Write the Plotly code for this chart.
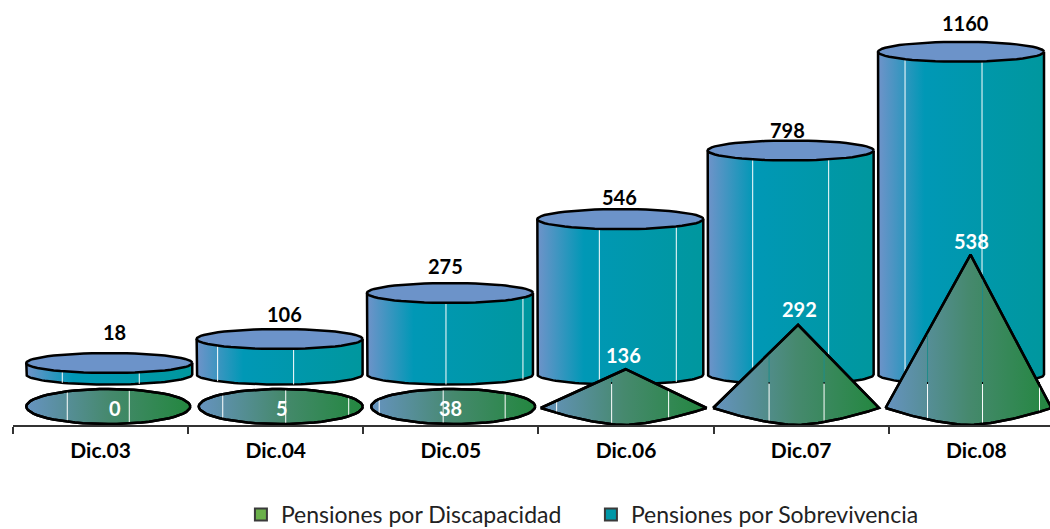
import numpy as np
import plotly.graph_objects as go

# ---- data ----
categories = ["Dic.03", "Dic.04", "Dic.05", "Dic.06", "Dic.07", "Dic.08"]
sobrevivencia = [18, 106, 275, 546, 798, 1160]
discapacidad = [0, 5, 38, 136, 292, 538]
series_names = ["Pensiones por Discapacidad", "Pensiones por Sobrevivencia"]

# ---- geometry and styling (px based) ----
W, H = 1050, 529
L, AXIS_Y = 12.7, 425
TICK_STEP = 175.2
CYL_X0, CYL_STEP, CYL_SCALE, CYL_Y18 = 109.0, 170.4, 0.2725, 363.0
CONE_X0, CONE_STEP, CONE_SCALE, CONE_Y0 = 108.0, 172.5, 0.285, 408.0
CYL_HW, CYL_HH, CYL_BASE_PX = 83.0, 10.0, 374.5
CONE_HW, CONE_DEPTH, CONE_SKEW = 83.0, 17.0, -2.0
DISC_HW, DISC_HH, DISC_DY = 82.0, 17.5, 1.5

# white seam offsets from each mark's centre, px
cyl_seams = [[-47, 30], [-62, 14], [-4, 73], [-21, 56], [-38, 38], [-56, 21]]
cone_seams = [[-41, 21], [-58, 5, 68], [-74, -10, 52], [-69, -14, 43], [-29, 26], [-43, 12, 69]]
seam_split_px = 383

cyl_colors = [[0, "#6F93C9"], [0.28, "#0098B6"], [1, "#00979E"]]
cone_colors = [[0, "#6693C0"], [0.5, "#46896E"], [1, "#23873F"]]
font = "Lato"

# value label nudges, px
top_dx = [5, 5, -4, -1, -3, 4]
top_dy = [-31, -25, -27, -22, -20, -29]
in_dx = [7, 1, -3, -2, 1, 1]
in_dy = [0, 0, 0, -14, -16, -14]

# ---- axes: px -> axis units ----
def x_range(x0, step):
    return [(L - x0) / step, (W - x0) / step]

cyl_zero = CYL_Y18 + 18 * CYL_SCALE
y2_range = [(cyl_zero - AXIS_Y) / CYL_SCALE, cyl_zero / CYL_SCALE]
y3_range = [(CONE_Y0 - AXIS_Y) / CONE_SCALE, CONE_Y0 / CONE_SCALE]
cyl_base = (cyl_zero - CYL_BASE_PX) / CYL_SCALE

cu, cv = CYL_HW / CYL_STEP, CYL_HH / CYL_SCALE
ku, kd = CONE_HW / CONE_STEP, CONE_DEPTH / CONE_SCALE
du, dv, dc = DISC_HW / CONE_STEP, DISC_HH / CONE_SCALE, DISC_DY / CONE_SCALE
kshift = CONE_SKEW / CONE_STEP

fig = go.Figure()
t = np.linspace(0, np.pi, 61)

def add(x, y, ax, **kw):
    kw.setdefault("mode", "lines")
    kw.setdefault("showlegend", False)
    kw.setdefault("hoverinfo", "skip")
    fig.add_trace(go.Scatter(x=x, y=y, xaxis="x" + ax, yaxis="y" + ax, **kw))

# cylinders
for i, v in enumerate(sobrevivencia):
    arc_x = i - cu * np.cos(t)
    body_x = np.r_[i - cu, arc_x, i + cu]
    body_y = np.r_[v, cyl_base - cv * np.sin(t), v]
    add(body_x, body_y, "2", fill="toself",
        fillgradient=dict(type="horizontal", colorscale=cyl_colors),
        line=dict(color="black", width=2.5))
    for off in cyl_seams[i]:
        u = off / CYL_HW
        s = np.sqrt(1 - u * u) * cv
        add([i + off / CYL_STEP] * 2, [v - s, cyl_base - s], "2",
            line=dict(color="white", width=1))
    add(np.r_[i + cu * np.cos(2 * t), i + cu], np.r_[v + cv * np.sin(2 * t), v], "2",
        fill="toself", fillcolor="#6C93C9", line=dict(color="black", width=2.5))

# cones (a flat disc while the apex stays under the disc's upper edge)
for i, v in enumerate(discapacidad):
    if v < 100:
        xs = i + du * np.cos(2 * t)
        ys = dv * np.sin(2 * t) + dc
    else:
        w = np.linspace(-1, 1, 61)
        xs = np.r_[i + kshift + ku * w, i, i + kshift - ku]
        ys = np.r_[-kd * (1 - np.abs(w) ** 1.6), v, 0]
    add(xs, ys, "3", fill="toself",
        fillgradient=dict(type="horizontal", colorscale=cone_colors),
        line=dict(color="black", width=2.5))
    for off in cone_seams[i]:
        xo = i + off / CONE_STEP
        split = (CONE_Y0 - seam_split_px) / CONE_SCALE
        if v < 100:
            u = off / DISC_HW
            s = np.sqrt(max(0, 1 - u * u)) * dv
            low, high = dc - s, dc + s
        else:
            u = abs(off - CONE_SKEW) / CONE_HW
            low = -kd * (1 - min(u, 1) ** 1.6)
            high = v * (1 - abs(off) / CONE_HW)
        add([xo, xo], [low, min(high, split)], "3", line=dict(color="white", width=1))
        if high > split:
            add([xo, xo], [split, high], "3", line=dict(color="#1E8C8A", width=1))
            add([xo, xo], [split - 1 / CONE_SCALE, split + 1 / CONE_SCALE], "3",
                line=dict(color="black", width=1))
    # redraw the outline so seams stay beneath it
    add(xs, ys, "3", line=dict(color="black", width=2.5))

# legend entries
for name, col in zip(series_names, ["#6AB04A", "#0097A7"]):
    fig.add_trace(go.Scatter(x=[None], y=[None], mode="markers", name=name, showlegend=True,
                             hoverinfo="skip",
                             marker=dict(symbol="square", size=13, color=col,
                                         line=dict(color="#3A3A3A", width=1))))

# invisible trace that brings in the category axis
fig.add_trace(go.Scatter(x=categories, y=[0] * 6, mode="markers", marker=dict(opacity=0),
                         showlegend=False, hoverinfo="skip"))

ann = []
for i, v in enumerate(sobrevivencia):
    ann.append(dict(x=i, y=v, xref="x2", yref="y2", text=f"<b>{v}</b>", showarrow=False,
                    xshift=top_dx[i], yshift=-top_dy[i], font=dict(family=font, size=20, color="black")))
for i, v in enumerate(discapacidad):
    ann.append(dict(x=i, y=v if v >= 100 else 0, xref="x3", yref="y3", text=f"<b>{v}</b>", showarrow=False,
                    xshift=in_dx[i], yshift=-in_dy[i], font=dict(family=font, size=20, color="white")))

blank = dict(visible=False, fixedrange=True)
fig.update_layout(
    width=W, height=H, autosize=False,
    margin=dict(l=L, r=0, t=0, b=H - AXIS_Y, pad=0, autoexpand=False),
    paper_bgcolor="white", plot_bgcolor="white",
    font=dict(family=font, color="black"),
    annotations=ann,
    xaxis=dict(type="category", categoryorder="array", categoryarray=categories,
               range=[-0.5, -0.5 + (W - L) / TICK_STEP], tickson="boundaries",
               ticks="outside", ticklen=7, tickwidth=1.5, tickcolor="#333333",
               showline=True, linecolor="#333333", linewidth=2, showgrid=False,
               tickfont=dict(family=font, size=21, color="black"), ticklabelstandoff=6,
               tickprefix="<b>", ticksuffix="</b>", fixedrange=True),
    yaxis=dict(range=[0, 1], visible=False, fixedrange=True),
    xaxis2=dict(range=x_range(CYL_X0, CYL_STEP), overlaying="x", **blank),
    yaxis2=dict(range=y2_range, overlaying="y", **blank),
    xaxis3=dict(range=x_range(CONE_X0, CONE_STEP), overlaying="x", **blank),
    yaxis3=dict(range=y3_range, overlaying="y", **blank),
    legend=dict(orientation="h", x=0.5573, xanchor="center", y=-0.2105, yanchor="middle",
                font=dict(family=font, size=23, color="#222222"), itemsizing="constant",
                entrywidth=305, entrywidthmode="pixels", bgcolor="rgba(0,0,0,0)",
                traceorder="normal"),
)
fig.write_html("out.html", config=dict(displayModeBar=False),
               post_script="document.body.style.margin='0';document.body.style.overflow='hidden';")
